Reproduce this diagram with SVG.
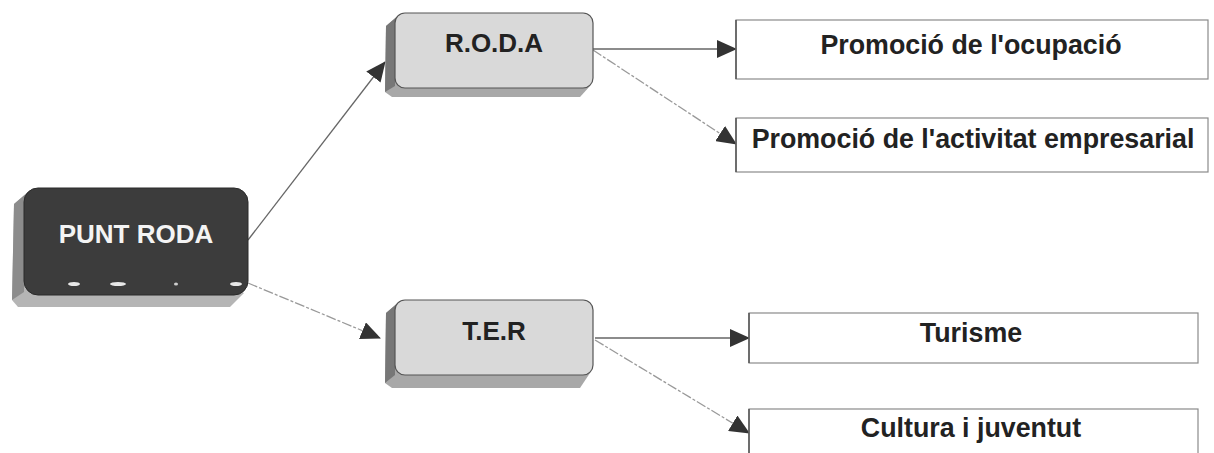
<svg xmlns="http://www.w3.org/2000/svg" width="1214" height="453" viewBox="0 0 1214 453">
  <style>
    .lbl { font-family: "Liberation Sans", Arial, sans-serif; font-weight: bold; font-size: 26px; text-anchor: middle; fill: #222; }
    .big { font-size: 26.8px; }
    .white { fill: #f4f4f4; }
    .leaf { fill: #fff; stroke: #8a8a8a; stroke-width: 1.2; }
    .leafL { stroke: #555; stroke-width: 1.5; }
    .face { fill: #d9d9d9; stroke: #555; stroke-width: 1.2; }
    .side { fill: #777; }
    .bottom { fill: #a8a8a8; }
    .conn { fill: none; stroke: #666; stroke-width: 1.3; }
    .connLight { fill: none; stroke: #999; stroke-width: 1.3; stroke-dasharray: 10 2 3 2; }
  </style>
  <defs>
    <marker id="arrow" markerUnits="userSpaceOnUse" markerWidth="20" markerHeight="18" refX="19" refY="9" orient="auto">
      <path d="M0,0 L20,9 L0,18 Z" fill="#333"/>
    </marker>
  </defs>
  <rect width="1214" height="453" fill="#fff"/>

  <g id="connectors">
    <line class="conn" x1="248" y1="240" x2="385" y2="62" marker-end="url(#arrow)"/>
    <line class="connLight" x1="248" y1="283" x2="380" y2="338" marker-end="url(#arrow)"/>
    <line class="conn" x1="593" y1="49" x2="736" y2="49" marker-end="url(#arrow)"/>
    <line class="connLight" x1="593" y1="50" x2="736" y2="144" marker-end="url(#arrow)"/>
    <line class="conn" x1="595" y1="338" x2="749" y2="338" marker-end="url(#arrow)"/>
    <line class="connLight" x1="595" y1="340" x2="749" y2="433" marker-end="url(#arrow)"/>
  </g>

  <g id="node-punt-roda">
    <polygon points="28,192 14,204 12,300 18,307 230,307 244,293" fill="#b5b5b5"/>
    <polygon points="28,192 14,204 12,300 24,292 24,200" fill="#8c8c8c"/>
    <rect x="24" y="188" width="224" height="107" rx="14" fill="#3c3c3c" stroke="#2a2a2a" stroke-width="1"/>
    <ellipse cx="74" cy="284" rx="6" ry="2" fill="#e8e8e8"/>
    <ellipse cx="118" cy="284" rx="8" ry="2" fill="#e8e8e8"/>
    <ellipse cx="176" cy="284" rx="2" ry="1.5" fill="#cfcfcf"/>
    <ellipse cx="236" cy="284" rx="6" ry="2" fill="#e8e8e8"/>
    <text class="lbl white" x="136" y="243">PUNT RODA</text>
  </g>

  <g id="node-roda">
    <polygon points="400,14 386,26 385,92 392,97 580,97 590,86" class="bottom"/>
    <polygon points="400,14 386,26 385,92 395,86 395,20" class="side"/>
    <rect class="face" x="395" y="13" width="198" height="75" rx="10"/>
    <text class="lbl" x="494" y="52">R.O.D.A</text>
  </g>

  <g id="node-ter">
    <polygon points="400,301 386,313 385,383 392,388 580,388 590,373" class="bottom"/>
    <polygon points="400,301 386,313 385,383 395,375 395,307" class="side"/>
    <rect class="face" x="395" y="300" width="198" height="75" rx="10"/>
    <text class="lbl" x="494" y="340">T.E.R</text>
  </g>

  <g id="node-ocupacio">
    <rect class="leaf" x="736" y="20" width="472" height="59"/>
    <line class="leafL" x1="736" y1="20" x2="736" y2="79"/>
    <text class="lbl big" x="971" y="54">Promoció de l'ocupació</text>
  </g>

  <g id="node-activitat">
    <rect class="leaf" x="736" y="118" width="472" height="54"/>
    <line class="leafL" x1="736" y1="118" x2="736" y2="172"/>
    <text class="lbl big" x="973" y="148">Promoció de l'activitat empresarial</text>
  </g>

  <g id="node-turisme">
    <rect class="leaf" x="749" y="313" width="449" height="50"/>
    <line class="leafL" x1="749" y1="313" x2="749" y2="363"/>
    <text class="lbl big" x="971" y="342">Turisme</text>
  </g>

  <g id="node-cultura">
    <rect class="leaf" x="749" y="409" width="449" height="60"/>
    <line class="leafL" x1="749" y1="409" x2="749" y2="453"/>
    <text class="lbl big" x="971" y="437">Cultura i juventut</text>
  </g>
</svg>
